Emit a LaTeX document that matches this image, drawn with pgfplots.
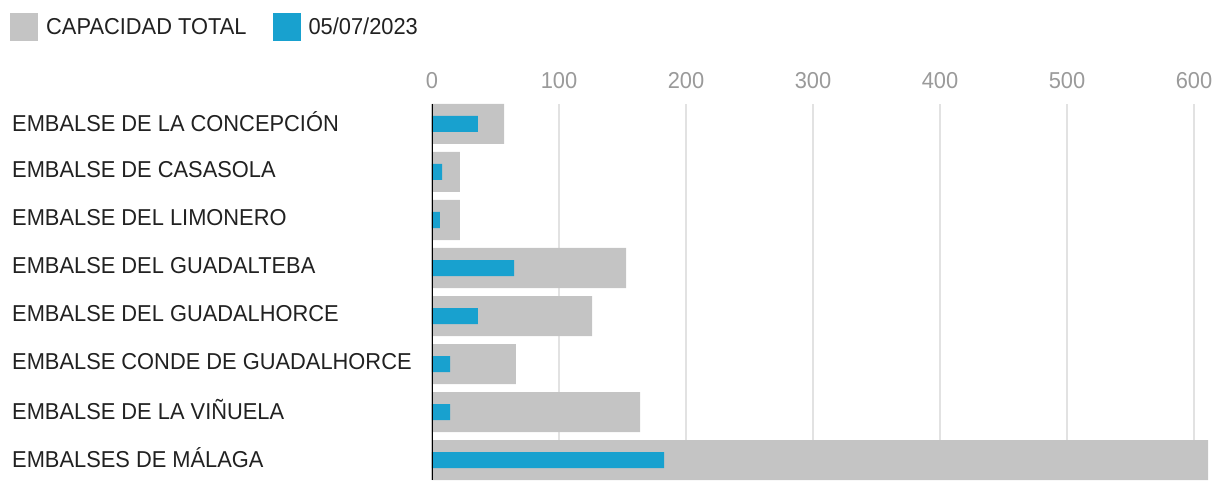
\documentclass[border=0pt]{standalone}
\usepackage{pgfplots}
\pgfplotsset{compat=1.18}
\usepackage{fontspec}
\setmainfont[FakeStretch=0.95]{Liberation Sans}
\definecolor{capgrey}{HTML}{C4C4C4}
\definecolor{curblue}{HTML}{18A1CF}
\definecolor{gridgrey}{HTML}{E2E2E2}
\definecolor{ticklab}{HTML}{9A9A9A}
\definecolor{txt}{HTML}{212121}
\begin{document}
\begin{tikzpicture}
\path[use as bounding box] (-432pt,-12pt) rectangle (788pt,480pt);
\begin{axis}[
  at={(0pt,0pt)}, anchor=south west,
  scale only axis, width=776pt, height=376pt,
  xmin=0, xmax=611,
  ymin=-0.4167, ymax=7.4167, y dir=reverse,
  axis line style={draw=none},
  major tick length=0pt,
  xtick={0,100,...,600},
  xticklabel pos=upper,
  xticklabel style={font=\fontsize{23}{27}\selectfont, text=ticklab, yshift=12pt},
  /pgf/number format/assume math mode=true,
  xmajorgrids, grid style={gridgrey, line width=1.5pt},
  ytick={0,...,7},
  yticklabels={EMBALSE DE LA CONCEPCIÓN, EMBALSE DE CASASOLA, EMBALSE DEL LIMONERO, EMBALSE DEL GUADALTEBA, EMBALSE DEL GUADALHORCE, EMBALSE CONDE DE GUADALHORCE, EMBALSE DE LA VIÑUELA, EMBALSES DE MÁLAGA},
  yticklabel style={font=\fontsize{23}{27}\selectfont, text=txt, anchor=west, inner sep=0pt, xshift=-420pt, yshift=2pt},
  legend style={at={(-0.5438,1.242)}, anchor=north west, draw=none, fill=none, inner sep=0pt,
    legend columns=2, font=\fontsize{23}{27}\selectfont, text=txt,
    /tikz/every odd column/.append style={column sep=6pt},
    /tikz/every even column/.append style={column sep=24pt}},
  legend cell align=left,
]
\addplot[xbar, bar width=40pt, bar shift=0pt, fill=capgrey, draw=none,
  legend image code/.code={\fill[capgrey] (0pt,-14pt) rectangle (28pt,14pt);}]
  coordinates {(56.7,0) (22,1) (22,2) (152.8,3) (126,4) (66.1,5) (163.8,6) (611,7)};
\addlegendentry{CAPACIDAD TOTAL}
\addplot[xbar, bar width=16pt, bar shift=0pt, fill=curblue, draw=none,
  legend image code/.code={\fill[curblue] (0pt,-14pt) rectangle (28pt,14pt);}]
  coordinates {(36.2,0) (7.9,1) (6.3,2) (64.6,3) (36.2,4) (14.2,5) (14.2,6) (182.7,7)};
\addlegendentry{05/07/2023}
\addplot[black, line width=2.5pt, forget plot] coordinates {(0,-0.4167) (0,7.4167)};
\end{axis}
\end{tikzpicture}
\end{document}
